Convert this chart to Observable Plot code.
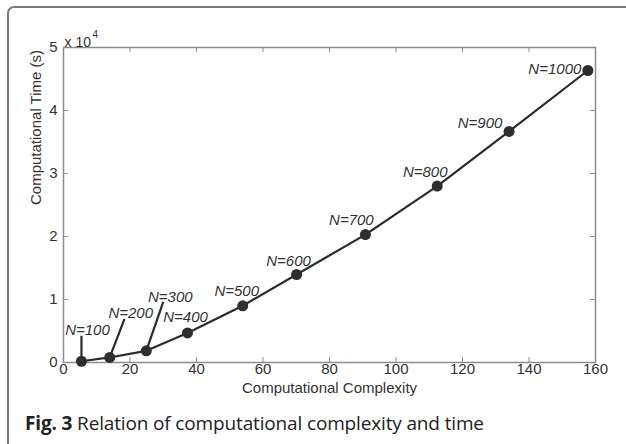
<!DOCTYPE html>
<html>
<head>
<meta charset="utf-8">
<script src="https://cdn.jsdelivr.net/npm/d3@7"></script>
<script src="https://cdn.jsdelivr.net/npm/@observablehq/plot@0.6"></script>
<style>
  html, body { margin: 0; padding: 0; background: #fff; }
  #wrap { position: relative; width: 626px; height: 444px; overflow: hidden; }
  #border { position: absolute; left: 7px; top: 6px; width: 700px; height: 500px;
            border-top: 2px solid #7a7a7a; border-left: 2px solid #7a7a7a; border-top-left-radius: 7px; }
  #chart { position: absolute; left: 0; top: 0; }
  #caption { position: absolute; left: 25px; top: 410px; font-family: "Open Sans", sans-serif;
             font-size: 19px; color: #222; white-space: nowrap; letter-spacing: -0.15px; }
  #caption b { font-weight: 700; }
</style>
</head>
<body>
<div id="wrap">
  <div id="border"></div>
  <div id="chart"></div>
  <div id="caption"><b>Fig. 3</b> Relation of computational complexity and time</div>
</div>
<script>
// Data
const labels = ["N=100","N=200","N=300","N=400","N=500","N=600","N=700","N=800","N=900","N=1000"];
const complexity = [5.4, 13.9, 24.9, 37.3, 53.9, 70.1, 90.8, 112.4, 134.0, 157.7];
const time = [200, 800, 1850, 4700, 9000, 13970, 20300, 28000, 36670, 46350];
const xTicks = [0, 20, 40, 60, 80, 100, 120, 140, 160];
const yTicks = [0, 10000, 20000, 30000, 40000, 50000];
// leader-line ends (data units) for the first three labels
const leaderIdx = [0, 1, 2];
const leaderX = [5.4, 18.35, 30.0];
const leaderY = [4240, 6940, 9630];

// label offsets in pixels (layout)
const labelOffsets = [[6,-31],[21,-44],[24,-54],[-2,-16],[-6,-15],[-8,-13],[-14,-14],[-12,-14],[-29,-8],[-33,-1]];

const pts = labels.map((l, i) => ({label: l, x: complexity[i], y: time[i]}));
const leaders = leaderIdx.map((i, k) => ({x1: complexity[i], y1: time[i], x2: leaderX[k], y2: leaderY[k]}));

const font = "Liberation Sans, Arial, sans-serif";
const plotH = 315;

const chart = Plot.plot({
  width: 626,
  height: 400,
  marginLeft: 63,
  marginRight: 31,
  marginTop: 47,
  marginBottom: 38,
  style: {fontFamily: font, fontSize: "15px", color: "#333", background: "transparent", overflow: "visible"},
  x: {domain: [0, 160]},
  y: {domain: [0, 50000]},
  marks: [
    Plot.frame({stroke: "#8c8c8c", strokeWidth: 1.5}),
    Plot.tickX(xTicks, {x: d => d, stroke: "#8c8c8c", insetTop: plotH - 5}),
    Plot.tickX(xTicks, {x: d => d, stroke: "#8c8c8c", insetBottom: plotH - 5}),
    Plot.tickY(yTicks, {y: d => d, stroke: "#8c8c8c", insetRight: 532 - 5}),
    Plot.tickY(yTicks, {y: d => d, stroke: "#8c8c8c", insetLeft: 532 - 5}),
    Plot.axisX({ticks: xTicks, tickSize: 0, tickPadding: 1, label: null, fontSize: 15, fill: "#333"}),
    Plot.axisY({ticks: yTicks, tickSize: 0, tickPadding: 6, tickFormat: d => d / 1e4, label: null, fontSize: 15, fill: "#333"}),
    Plot.text(["Computational Complexity"], {frameAnchor: "bottom", dy: 30, text: d => d, fontSize: 15, fill: "#333"}),
    Plot.text(["Computational Time (s)"], {frameAnchor: "left", dx: -27, rotate: -90, text: d => d, fontSize: 15, fill: "#333"}),
    Plot.text(["x 10"], {frameAnchor: "top-left", dx: 1, dy: -10, textAnchor: "start", text: d => d, fontSize: 14, fill: "#333"}),
    Plot.text(["4"], {frameAnchor: "top-left", dx: 29, dy: -17, textAnchor: "start", text: d => d, fontSize: 10, fill: "#333"}),
    Plot.link(leaders, {x1: "x1", y1: "y1", x2: "x2", y2: "y2", stroke: "#2b2b2b", strokeWidth: 2.2}),
    Plot.line(pts, {x: "x", y: "y", stroke: "#2b2b2b", strokeWidth: 2.2}),
    Plot.dot(pts, {x: "x", y: "y", r: 5.5, fill: "#2e2e2e", stroke: "none"}),
    ...pts.map((p, i) => Plot.text([p], {x: "x", y: "y", text: "label", dx: labelOffsets[i][0], dy: labelOffsets[i][1],
      fontSize: 15, fontStyle: "italic", fill: "#333"}))
  ]
});
document.getElementById("chart").appendChild(chart);
</script>
</body>
</html>
